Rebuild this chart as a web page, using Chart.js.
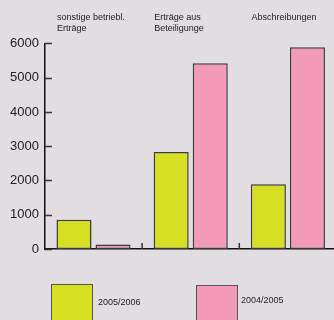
<!DOCTYPE html>
<html>
<head>
<meta charset="utf-8">
<script src="https://cdn.jsdelivr.net/npm/chart.js@4.4.1/dist/chart.umd.min.js"></script>
<style>
  html, body { margin: 0; padding: 0; background: #e1dde0; overflow: hidden; }
  #wrap { position: relative; width: 334px; height: 320px; overflow: hidden; }
  #chart { position: absolute; left: 0; top: 0; }
  .lg-box { position: absolute; width: 42px; height: 38px; box-sizing: border-box; border: 1px solid #555; }
  .lg-text { position: absolute; font: 9px 'Liberation Sans', Arial, sans-serif; color: #222; line-height: 11px; }
</style>
</head>
<body>
<div id="wrap">
  <canvas id="chart" width="340" height="320"></canvas>
  <div id="legend"></div>
</div>
<script>
// Daten
const categories = [['sonstige betriebl.', 'Erträge'], ['Erträge aus', 'Beteiligunge'], ['Abschreibungen', '']];
const seriesNames = ['2005/2006', '2004/2005'];
const values0506 = [855, 2830, 1890];
const values0405 = [135, 5420, 5890];
const yTicks = [0, 1000, 2000, 3000, 4000, 5000, 6000];

const colors = ['#d7df22', '#f39ab9'];

Chart.defaults.font.family = "'Liberation Sans', Arial, sans-serif";

// tick marks drawn inside the plot, like the original
const innerTicks = {
  id: 'innerTicks',
  afterDraw(chart) {
    const { ctx, scales: { x, y } } = chart;
    ctx.save();
    ctx.strokeStyle = '#333';
    ctx.lineWidth = 1.5;
    y.ticks.forEach(t => {
      const py = Math.round(y.getPixelForValue(t.value)) + 0.5;
      ctx.beginPath();
      ctx.moveTo(y.right, py);
      ctx.lineTo(y.right + 7, py);
      ctx.stroke();
    });
    for (let i = 1; i < categories.length; i++) {
      const px = (x.getPixelForValue(i - 1) + x.getPixelForValue(i)) / 2;
      ctx.beginPath();
      ctx.moveTo(px, x.top);
      ctx.lineTo(px, x.top - 6);
      ctx.stroke();
    }
    ctx.restore();
  }
};

new Chart(document.getElementById('chart'), {
  type: 'bar',
  data: {
    labels: categories,
    datasets: [
      { label: seriesNames[0], data: values0506, backgroundColor: colors[0] },
      { label: seriesNames[1], data: values0405, backgroundColor: colors[1] }
    ]
  },
  options: {
    responsive: false,
    animation: false,
    layout: { padding: { left: 4, top: 2.5, right: 3.5, bottom: 71 } },
    datasets: {
      bar: {
        categoryPercentage: 0.804,
        barPercentage: 0.897,
        borderColor: '#3a3a3a',
        borderWidth: 1.5,
        borderSkipped: false
      }
    },
    plugins: {
      legend: { display: false },
      tooltip: { enabled: false }
    },
    scales: {
      x: {
        type: 'category',
        position: 'bottom',
        offset: true,
        grid: { display: false, drawTicks: false },
        border: { display: true, color: '#111', width: 1.5 },
        ticks: { display: false }
      },
      x2: {
        type: 'category',
        position: 'top',
        labels: categories,
        offset: true,
        grid: { display: false, drawTicks: false },
        border: { display: false },
        afterFit: axis => { axis.paddingLeft = 0; axis.paddingRight = 0; },
        ticks: {
          align: 'start',
          labelOffset: -36.5,
          padding: 9.5,
          maxRotation: 0,
          autoSkip: false,
          color: '#222',
          font: { size: 9, lineHeight: 1.22 }
        }
      },
      y: {
        min: 0,
        max: 6000,
        afterBuildTicks: axis => { axis.ticks = yTicks.map(v => ({ value: v })); },
        grid: { display: false, drawTicks: false },
        border: { display: true, color: '#111', width: 1.5 },
        ticks: { color: '#222', padding: 6, font: { size: 13 }, callback: v => String(v) }
      }
    }
  },
  plugins: [innerTicks]
});

// Legende als HTML
const legendPos = [
  { box: [51, 284], text: [98, 297] },
  { box: [196, 285], text: [241, 295] }
];
document.getElementById('legend').innerHTML = seriesNames.map((name, i) => `
  <div class="lg-box" style="left:${legendPos[i].box[0]}px;top:${legendPos[i].box[1]}px;background:${colors[i]};"></div>
  <div class="lg-text" style="left:${legendPos[i].text[0]}px;top:${legendPos[i].text[1]}px;">${name}</div>
`).join('');
</script>
</body>
</html>
